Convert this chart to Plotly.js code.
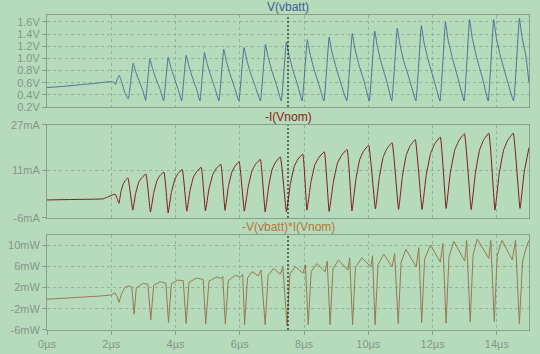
<!DOCTYPE html>
<html><head><meta charset="utf-8">
<script src="https://cdn.plot.ly/plotly-3.0.1.min.js"></script>
<style>html,body{margin:0;padding:0;background:#b6dbbb;}#chart{width:540px;height:354px;}</style>
</head><body><div id="chart"></div>
<script>
// ---- data (time in µs) ----
const vTime = [0,0.5,1.0,1.5,2.0,2.07,2.13,2.19,2.25,2.32,2.42,2.53,
2.68,2.76,2.86,2.98,3.07,
3.20,3.28,3.38,3.52,3.63,
3.77,3.85,3.95,4.08,4.19,
4.33,4.41,4.51,4.65,4.76,
4.90,4.98,5.08,5.22,5.35,
5.50,5.58,5.68,5.83,5.97,
6.13,6.21,6.32,6.48,6.64,
6.80,6.88,6.99,7.15,7.29,
7.45,7.53,7.64,7.80,7.94,
8.10,8.18,8.29,8.46,8.62,
8.78,8.86,8.98,9.15,9.33,
9.50,9.58,9.70,9.88,10.03,
10.20,10.28,10.40,10.58,10.73,
10.90,10.98,11.10,11.30,11.48,
11.65,11.73,11.86,12.05,12.23,
12.40,12.48,12.61,12.80,12.98,
13.15,13.23,13.36,13.56,13.73,
13.90,13.98,14.11,14.31,14.52,
14.70,14.78,14.90,15.0];
const vVolt = [0.52,0.54,0.565,0.59,0.62,0.61,0.57,0.66,0.72,0.62,0.44,0.33,
0.92,0.78,0.64,0.47,0.31,
0.99,0.84,0.68,0.49,0.30,
1.02,0.86,0.70,0.49,0.30,
1.05,0.89,0.71,0.50,0.30,
1.10,0.92,0.74,0.52,0.30,
1.15,0.96,0.77,0.53,0.30,
1.18,0.99,0.78,0.54,0.30,
1.23,1.03,0.81,0.55,0.30,
1.27,1.06,0.83,0.56,0.30,
1.31,1.09,0.86,0.57,0.30,
1.35,1.12,0.88,0.58,0.30,
1.41,1.17,0.91,0.60,0.30,
1.45,1.20,0.93,0.61,0.30,
1.50,1.24,0.96,0.62,0.30,
1.54,1.27,0.98,0.63,0.30,
1.60,1.31,1.02,0.65,0.30,
1.64,1.35,1.04,0.66,0.30,
1.64,1.35,1.04,0.66,0.30,
1.66,1.36,1.05,0.60];

const iTime = [0,1.0,1.75,1.96,2.12,2.18,2.24,2.30,2.37,2.44,2.52,2.67,
2.76,2.86,2.96,3.08,3.22,
3.32,3.42,3.51,3.64,3.77,
3.87,3.98,4.08,4.21,4.35,
4.45,4.56,4.67,4.80,4.93,
5.04,5.16,5.27,5.41,5.54,
5.64,5.75,5.85,5.98,6.14,
6.26,6.38,6.49,6.64,6.79,
6.90,7.01,7.12,7.26,7.45,
7.57,7.69,7.81,7.96,8.09,
8.21,8.34,8.47,8.63,8.78,
8.91,9.04,9.17,9.34,9.49,
9.61,9.73,9.85,10.01,10.22,
10.34,10.46,10.58,10.74,10.94,
11.06,11.18,11.30,11.46,11.67,
11.80,11.94,12.07,12.24,12.42,
12.55,12.69,12.82,12.99,13.20,
13.33,13.46,13.59,13.75,13.94,
14.07,14.21,14.34,14.51,14.72,
14.85,15.0];
const iCurr = [0.4,0.6,0.8,1.8,2.5,1.0,-0.8,3.3,6.0,7.4,8.2,-3.2,
2.8,6.8,8.4,9.6,-3.9,
2.8,7.2,9.0,10.3,-4.2,
3.0,7.8,9.8,11.2,-3.6,
3.7,8.6,10.6,12.0,-3.5,
4.3,9.4,11.6,13.1,-3.3,
4.8,10.2,12.4,14.0,-3.6,
5.0,10.8,13.1,14.8,-3.9,
5.3,11.4,13.9,15.7,-3.8,
5.8,12.2,14.9,16.7,-3.2,
6.5,13.0,15.6,17.5,-3.7,
6.6,13.5,16.3,18.3,-3.5,
7.5,14.7,17.7,19.8,-2.8,
8.2,15.5,18.6,20.7,-3.0,
8.7,16.3,19.6,21.8,-3.0,
9.1,17.0,20.4,22.7,-2.6,
9.9,18.1,21.5,23.9,-3.0,
9.7,18.1,21.7,24.1,-3.2,
9.6,18.1,21.6,24.1,-2.6,
10.2,19.0];

const pTime = [0,1.0,1.65,2.0,2.12,2.18,2.24,2.32,2.42,2.53,2.64,2.71,2.78,3.0,3.14,3.23,3.32,3.52,3.70,3.78,
3.87,4.06,4.24,4.33,4.42,4.66,4.86,4.94,5.04,5.29,5.41,5.47,5.55,5.64,5.86,6.02,6.09,6.15,
6.24,6.38,6.58,6.66,6.79,6.88,7.05,7.26,7.34,7.47,7.56,7.73,7.97,8.04,8.13,
8.22,8.40,8.66,8.72,8.81,8.90,9.07,9.36,9.42,9.51,9.60,9.80,10.08,10.13,10.21,
10.30,10.48,10.74,10.82,10.93,11.02,11.17,11.49,11.57,11.66,11.75,11.93,12.24,12.32,12.42,
12.51,12.66,13.00,13.06,13.17,13.26,13.39,13.75,13.81,13.92,14.01,14.16,14.48,14.58,14.70,
14.80,14.94,15.0];
const pPow = [-0.2,0.1,0.4,0.6,1.0,0.3,-0.8,0.8,2.0,2.3,2.1,-3.0,2.0,2.8,2.6,-4.1,2.4,3.1,2.8,-4.6,
2.7,3.4,3.3,-4.8,3.0,3.8,3.5,-4.9,3.2,4.0,3.7,4.1,-4.9,3.3,4.3,4.0,4.5,-5.0,
3.8,5.0,4.2,5.3,-5.0,4.3,5.6,4.5,5.9,-5.2,4.6,5.9,4.7,6.3,-5.0,
5.0,6.5,5.0,7.0,-5.0,5.5,7.2,5.3,7.6,-5.0,5.8,7.6,5.9,8.0,-5.0,
6.3,8.3,5.9,8.4,-4.8,6.8,9.2,5.9,9.5,-4.6,7.3,10.0,6.8,10.3,-4.7,
7.8,10.7,7.0,10.9,-4.5,8.2,11.1,7.5,10.9,-4.4,8.0,10.9,7.2,10.9,-4.8,
7.0,10.0,10.9];

const cursorTime = 7.5;
const xTicks = [0,2,4,6,8,10,12,14];
const xTickText = ["0µs","2µs","4µs","6µs","8µs","10µs","12µs","14µs"];
const vTicks = [0.2,0.4,0.6,0.8,1.0,1.2,1.4,1.6];
const vTickText = ["0.2V","0.4V","0.6V","0.8V","1.0V","1.2V","1.4V","1.6V"];
const iTicks = [-6,11,27];
const iTickText = ["-6mA","11mA","27mA"];
const pTicks = [-6,-2,2,6,10];
const pTickText = ["-6mW","-2mW","2mW","6mW","10mW"];
const titles = ["V(vbatt)","-I(Vnom)","-V(vbatt)*I(Vnom)"];

// ---- styling ----
const BG = "#b6dbbb", GRID = "#93b09a", AX = "#8a9e8e", TXT = "#86958a";
const FONT = "Liberation Sans, Arial, sans-serif";
const dom = {p1:[0.7079,1], p2:[0.3556,0.6508], p3:[0,0.3016]};

function xa(anchor, showLabels){
  return {anchor:anchor, domain:[0,1], range:[0,15], tickvals:xTicks, ticktext:xTickText,
    showticklabels:showLabels, ticks: showLabels?"outside":"", ticklen:4, tickcolor:AX,
    showgrid:true, gridcolor:GRID, griddash:"3px,3px", gridwidth:1,
    showline:true, mirror:true, linecolor:AX, linewidth:1, zeroline:false,
    tickfont:{family:FONT,size:11,color:TXT}};
}
function ya(anchor, d, range, tv, tt){
  return {anchor:anchor, domain:d, range:range, tickvals:tv, ticktext:tt,
    ticks:"outside", ticklen:4, tickcolor:AX, showgrid:true, gridcolor:GRID, griddash:"3px,3px",
    showline:true, mirror:true, linecolor:AX, linewidth:1, zeroline:false,
    tickfont:{family:FONT,size:11,color:TXT}};
}

const traces = [
  {x:vTime, y:vVolt, xaxis:"x", yaxis:"y", mode:"lines", line:{color:"#4f719b", width:1, shape:"spline", smoothing:0.3}},
  {x:iTime, y:iCurr, xaxis:"x2", yaxis:"y2", mode:"lines", line:{color:"#7d1c1c", width:1, shape:"spline", smoothing:0.3}},
  {x:pTime, y:pPow, xaxis:"x3", yaxis:"y3", mode:"lines", line:{color:"#957a52", width:1}}
];

const shapes = [["x",dom.p1],["x2",dom.p2],["x3",dom.p3]].map(([xr,d]) => ({
  type:"line", xref:xr, yref:"paper", x0:cursorTime, x1:cursorTime, y0:d[0], y1:d[1],
  line:{color:"#000", width:1, dash:"2px,2px"}
}));

const titleColors = ["#3f5f97","#8b1a1a","#b0783a"];
const titleY = [1.025, 0.676, 0.327];
const annotations = titles.map((t,k)=>({text:t, xref:"paper", yref:"paper", x:0.5, y:titleY[k],
  xanchor:"center", yanchor:"middle", showarrow:false, font:{family:FONT, size:12, color:titleColors[k]}}));

const layout = {
  width:540, height:354, margin:{l:47,r:11,t:15,b:24},
  paper_bgcolor:BG, plot_bgcolor:BG, showlegend:false,
  xaxis:xa("y",false), xaxis2:xa("y2",false), xaxis3:xa("y3",true),
  yaxis:ya("x",dom.p1,[0.2,1.715],vTicks,vTickText),
  yaxis2:ya("x2",dom.p2,[-6,27],iTicks,iTickText),
  yaxis3:ya("x3",dom.p3,[-6,11.9],pTicks,pTickText),
  shapes:shapes, annotations:annotations
};
Plotly.newPlot("chart", traces, layout, {staticPlot:true, displayModeBar:false});
</script></body></html>
